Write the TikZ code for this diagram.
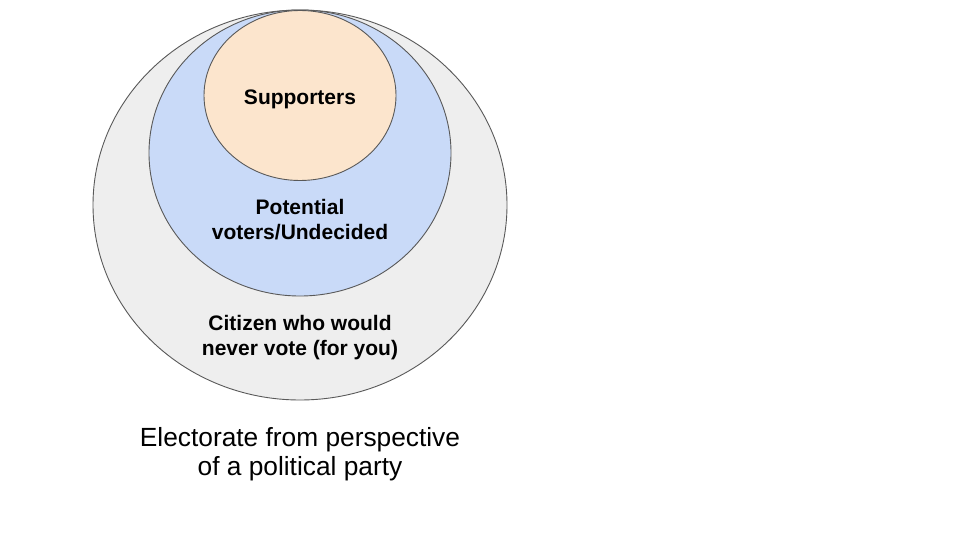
\documentclass[tikz,border=0pt]{standalone}
\usepackage{fontspec}
\setmainfont{Liberation Sans}
\usetikzlibrary{shapes.geometric}
\definecolor{outerfill}{HTML}{EEEEEE}
\definecolor{midfill}{HTML}{C9DAF8}
\definecolor{innerfill}{HTML}{FCE5CD}
\definecolor{rimcol}{HTML}{595959}
\begin{document}
\begin{tikzpicture}[x=1pt,y=-1pt,
  ring/.style={ellipse, draw=rimcol, line width=0.9pt, inner sep=0pt},
  boldlabel/.style={align=center, font=\bfseries\fontsize{21}{25}\selectfont, inner sep=0pt},
  caption/.style={align=center, font=\fontsize{26.3}{29.5}\selectfont, inner sep=0pt}]
\useasboundingbox (0,0) rectangle (960,540);
\node[ring, fill=outerfill, minimum width=414pt, minimum height=390pt] (outer) at (300,205) {};
\node[ring, fill=midfill, minimum width=302pt, minimum height=286pt] (middle) at (300,153) {};
\node[ring, fill=innerfill, minimum width=192pt, minimum height=170pt] (inner) at (300,95.5) {};
\node[boldlabel] (sup) at (300,99) {Supporters};
\node[boldlabel] (pot) at (300,220) {Potential\\voters/Undecided};
\node[boldlabel] (cit) at (300,338) {Citizen who would\\never vote (for you)};
\node[caption] (cap) at (300,454) {Electorate from perspective\\of a political party};
\end{tikzpicture}
\end{document}
